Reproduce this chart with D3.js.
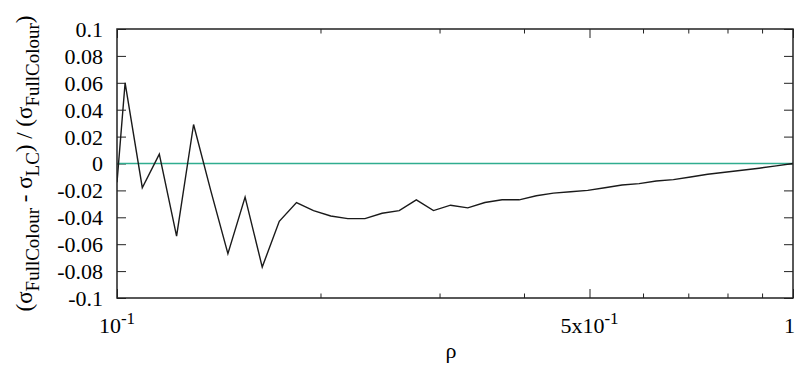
<!DOCTYPE html>
<html>
<head>
<meta charset="UTF-8">
<script src="https://d3js.org/d3.v7.min.js"></script>
<style>
  body { margin: 0; background: #fff; }
  svg { display: block; }
  .frame line, .frame path { stroke: #222; }
</style>
</head>
<body>
<svg id="chart" width="796" height="382"></svg>
<script>
// rho values (log spaced) and the relative difference
const rho = [0.1, 0.1028, 0.1090, 0.1155, 0.1225, 0.1298, 0.1376, 0.1459, 0.1547,
  0.1640, 0.1738, 0.1843, 0.1953, 0.2071, 0.2195, 0.2327, 0.2467, 0.2615, 0.2772,
  0.2939, 0.3115, 0.3303, 0.3501, 0.3712, 0.3935, 0.4171, 0.4422, 0.4688, 0.4970,
  0.5268, 0.5585, 0.5921, 0.6276, 0.6654, 0.7054, 0.7478, 0.7927, 0.8404, 0.8909,
  0.9444, 1.0];
const relDiff = [-0.014, 0.060, -0.018, 0.007, -0.054, 0.029, -0.020, -0.067, -0.025,
  -0.077, -0.043, -0.029, -0.035, -0.039, -0.041, -0.041, -0.037, -0.035, -0.027,
  -0.035, -0.031, -0.033, -0.029, -0.027, -0.027, -0.024, -0.022, -0.021, -0.020,
  -0.018, -0.016, -0.015, -0.013, -0.012, -0.010, -0.008, -0.0065, -0.005, -0.0035,
  -0.0018, 0.0];

const yTicks = [-0.1, -0.08, -0.06, -0.04, -0.02, 0, 0.02, 0.04, 0.06, 0.08, 0.1];
const xMajor = [0.1, 0.5, 1];
const xMajorLabels = [["10", "-1"], ["5x10", "-1"], ["1", ""]];
const xMinor = [0.2, 0.3, 0.4, 0.6, 0.7, 0.8, 0.9];

const SERIF = "'Liberation Serif', 'DejaVu Serif', serif";
const margin = { top: 29, right: 3, bottom: 84, left: 117 };
const W = 796, H = 382;
const width = W - margin.left - margin.right;
const height = H - margin.top - margin.bottom;

const svg = d3.select('#chart');
const g = svg.append('g').attr('transform', `translate(${margin.left},${margin.top})`);

const x = d3.scaleLog().domain([0.1, 1]).range([0, width]);
const y = d3.scaleLinear().domain([-0.1, 0.1]).range([height, 0]);

// clip
svg.append('defs').append('clipPath').attr('id', 'clip')
  .append('rect').attr('width', width).attr('height', height);

// y axis left with labels
const yFmt = d => d === 0 ? '0' : (Math.abs(d) === 0.1 ? d3.format('.1f')(d) : d3.format('.2f')(d)).replace('\u2212', '-');
g.append('g').attr('class', 'frame')
  .call(d3.axisLeft(y).tickValues(yTicks).tickSizeInner(-9).tickSizeOuter(0).tickPadding(14).tickFormat(yFmt))
  .call(a => a.select('.domain').remove())
  .selectAll('text')
  .style('font-family', SERIF).style('font-size', '22px')
  .attr('fill', '#000').attr('dy', '0.34em');

// y axis right (ticks only)
g.append('g').attr('class', 'frame').attr('transform', `translate(${width},0)`)
  .call(d3.axisRight(y).tickValues(yTicks).tickSizeInner(-9).tickSizeOuter(0).tickFormat(''))
  .call(a => a.select('.domain').remove());

// x axes: major and minor ticks, bottom and top
[[d3.axisBottom, height], [d3.axisTop, 0]].forEach(([fn, ty]) => {
  g.append('g').attr('class', 'frame').attr('transform', `translate(0,${ty})`)
    .call(fn(x).tickValues(xMajor).tickSizeInner(-9).tickSizeOuter(0).tickFormat(''))
    .call(a => a.select('.domain').remove());
  g.append('g').attr('class', 'frame').attr('transform', `translate(0,${ty})`)
    .call(fn(x).tickValues(xMinor).tickSizeInner(-4.5).tickSizeOuter(0).tickFormat(''))
    .call(a => a.select('.domain').remove());
});

// x tick labels with superscripts
xMajor.forEach((v, i) => {
  const last = i === xMajor.length - 1;
  const t = g.append('text')
    .attr('x', last ? x(v) + 2 : x(v)).attr('y', height + 35)
    .attr('text-anchor', last ? 'end' : 'middle')
    .style('font-family', SERIF)
    .style('font-size', '22px');
  t.append('tspan').text(xMajorLabels[i][0]);
  if (xMajorLabels[i][1]) {
    t.append('tspan').attr('dy', -9).style('font-size', '17px').text(xMajorLabels[i][1]);
  }
});

// zero line
g.append('line')
  .attr('x1', 0).attr('x2', width)
  .attr('y1', y(0)).attr('y2', y(0))
  .attr('stroke', '#30ad8f').attr('stroke-width', 1.5);

// data line
const pts = rho.map((r, i) => [r, relDiff[i]]);
g.append('path')
  .datum(pts)
  .attr('clip-path', 'url(#clip)')
  .attr('fill', 'none')
  .attr('stroke', '#1a1a1a')
  .attr('stroke-width', 1.4)
  .attr('d', d3.line().x(d => x(d[0])).y(d => y(d[1])));

// border
g.append('rect')
  .attr('width', width).attr('height', height)
  .attr('fill', 'none').attr('stroke', '#222').attr('stroke-width', 1.5);

// x label
svg.append('text')
  .attr('x', margin.left + width / 2 - 4).attr('y', 358)
  .attr('text-anchor', 'middle')
  .style('font-family', SERIF)
  .style('font-size', '22px')
  .text('ρ');

// y label
const yl = svg.append('text')
  .attr('transform', `translate(32,${margin.top + height / 2}) rotate(-90)`)
  .attr('text-anchor', 'middle')
  .style('font-family', SERIF)
  .style('font-size', '23px');
const parts = [['(σ', 0], ['FullColour', 1], [' - σ', 0], ['LC', 1], [') / (σ', 0], ['FullColour', 1], [')', 0]];
let prevSub = false;
parts.forEach(([s, sub]) => {
  const ts = yl.append('tspan').text(s);
  if (sub) { ts.attr('dy', 7).style('font-size', '19px'); prevSub = true; }
  else if (prevSub) { ts.attr('dy', -7); prevSub = false; }
});
</script>
</body>
</html>
